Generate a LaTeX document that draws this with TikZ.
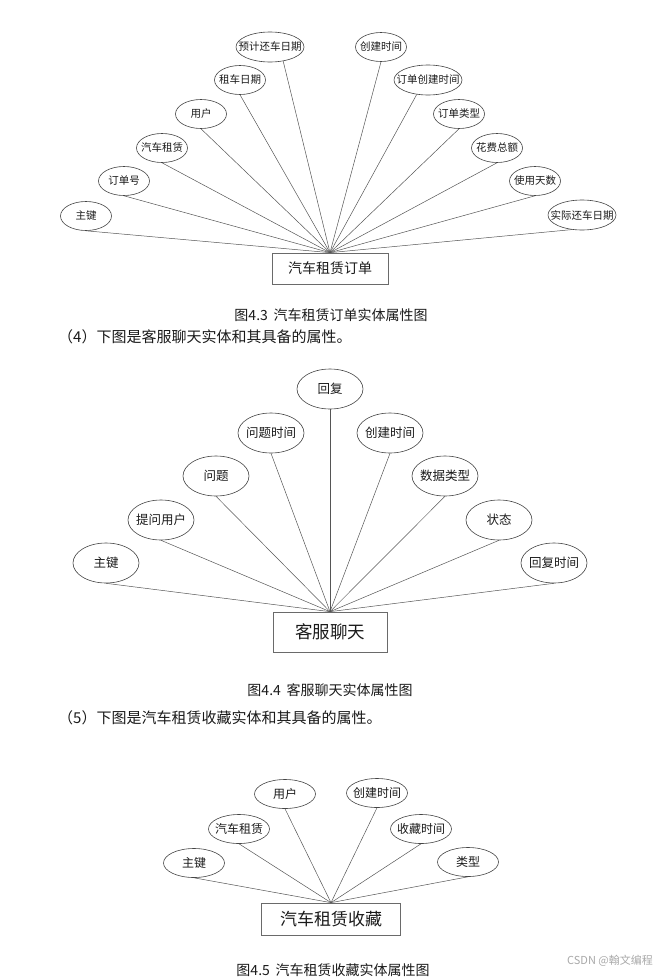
\documentclass[tikz,border=0pt]{standalone}
\usepackage{fontspec}
\setmainfont{Noto Sans CJK SC}
\usetikzlibrary{shapes.geometric}
\definecolor{clrLine}  {HTML}{555555}
\definecolor{clrEdge}  {HTML}{444444}
\definecolor{clrBox}   {HTML}{6A6A6A}
\definecolor{clrText}  {HTML}{1A1A1A}
\definecolor{clrMark}  {HTML}{A8A8A8}
\tikzset{
  % ellipse of fixed size, text does not widen it
  attr/.style = {
    ellipse, draw=clrEdge, line width=0.6pt, text=clrText,
    inner sep=0pt,
    execute at begin node={\hbox to 0pt\bgroup\hss},
    execute at end node={\hss\egroup},
  },
  attrA/.style  = {attr, minimum width=51pt, minimum height=29pt, font=\fontsize{10.5}{12}\selectfont},
  attrAL/.style = {attrA, minimum width=68pt, minimum height=30pt},
  attrB/.style  = {attr, minimum width=66pt, minimum height=40pt, font=\fontsize{12.5}{14}\selectfont},
  attrC/.style  = {attr, minimum width=61pt, minimum height=29pt, font=\fontsize{12}{14}\selectfont},
  entity/.style = {
    rectangle, draw=clrBox, line width=0.7pt, text=clrText, inner sep=0pt,
  },
  conn/.style   = {draw=clrLine, line width=0.5pt},
  figcap/.style = {font=\fontsize{14}{16}\selectfont, text=clrText, inner sep=0pt},
  para/.style   = {font=\fontsize{15}{17}\selectfont, text=clrText, inner sep=0pt, anchor=west},
}

\begin{document}
\begin{tikzpicture}[x=1pt, y=-1pt]
\useasboundingbox (0,0) rectangle (665,977);

% ══════════════════════════════════════════════════════════════════════════
%  Fig. 4.3 — rental order
% ══════════════════════════════════════════════════════════════════════════

\node[entity, minimum width=116pt, minimum height=31pt,
      font=\fontsize{14}{16}\selectfont] (ord) at (330,268.5) {汽车租赁订单};

\node[attrA]  (o1)  at (86, 216) {主键};
\node[attrA]  (o2)  at (124,181) {订单号};
\node[attrA]  (o3)  at (162,148) {汽车租赁};
\node[attrA]  (o4)  at (201,114) {用户};
\node[attrA]  (o5)  at (240, 80) {租车日期};
\node[attrAL] (o6)  at (270, 47) {预计还车日期};
\node[attrA]  (o7)  at (381, 47) {创建时间};
\node[attrAL] (o8)  at (428, 80) {订单创建时间};
\node[attrA]  (o9)  at (459,114) {订单类型};
\node[attrA]  (o10) at (497,148) {花费总额};
\node[attrA]  (o11) at (535,181) {使用天数};
\node[attrAL] (o12) at (582,215) {实际还车日期};

\draw[conn] (o1.south)  -- (ord.north);
\draw[conn] (o2.south)  -- (ord.north);
\draw[conn] (o3.south)  -- (ord.north);
\draw[conn] (o4.south)  -- (ord.north);
\draw[conn] (o5.south)  -- (ord.north);
\draw[conn] (o6.-47)    -- (ord.north);
\draw[conn] (o7.south)  -- (ord.north);
\draw[conn] (o8.-128)   -- (ord.north);
\draw[conn] (o9.south)  -- (ord.north);
\draw[conn] (o10.south) -- (ord.north);
\draw[conn] (o11.south) -- (ord.north);
\draw[conn] (o12.-125)  -- (ord.north);

\node[figcap] (cap1) at (331,315) {图4.3\hspace{0.4em}汽车租赁订单实体属性图};
\node[para]   (par1) at (58, 337) {（4）下图是客服聊天实体和其具备的属性。};

% ══════════════════════════════════════════════════════════════════════════
%  Fig. 4.4 — customer service chat
% ══════════════════════════════════════════════════════════════════════════

\node[entity, minimum width=114pt, minimum height=40pt,
      font=\fontsize{17.5}{20}\selectfont] (chat) at (330,632) {客服聊天};

\node[attrB] (c1) at (106,563) {主键};
\node[attrB] (c2) at (161,520) {提问用户};
\node[attrB] (c3) at (216,476) {问题};
\node[attrB] (c4) at (271,433) {问题时间};
\node[attrB] (c5) at (330,389) {回复};
\node[attrB] (c6) at (390,433) {创建时间};
\node[attrB] (c7) at (445,476) {数据类型};
\node[attrB] (c8) at (499,520) {状态};
\node[attrB] (c9) at (554,563) {回复时间};

\draw[conn] (c1.south) -- (chat.north);
\draw[conn] (c2.south) -- (chat.north);
\draw[conn] (c3.south) -- (chat.north);
\draw[conn] (c4.south) -- (chat.north);
\draw[conn] (c5.south) -- (chat.north);
\draw[conn] (c6.south) -- (chat.north);
\draw[conn] (c7.south) -- (chat.north);
\draw[conn] (c8.south) -- (chat.north);
\draw[conn] (c9.south) -- (chat.north);

\node[figcap] (cap2) at (330,690) {图4.4\hspace{0.4em}客服聊天实体属性图};
\node[para]   (par2) at (58, 718) {（5）下图是汽车租赁收藏实体和其具备的属性。};

% ══════════════════════════════════════════════════════════════════════════
%  Fig. 4.5 — rental favourite
% ══════════════════════════════════════════════════════════════════════════

\node[entity, minimum width=139pt, minimum height=32pt,
      font=\fontsize{17}{20}\selectfont] (fav) at (331,919) {汽车租赁收藏};

\node[attrC] (f1) at (194,863) {主键};
\node[attrC] (f2) at (239,829) {汽车租赁};
\node[attrC] (f3) at (285,794) {用户};
\node[attrC] (f4) at (377,793) {创建时间};
\node[attrC] (f5) at (421,829) {收藏时间};
\node[attrC] (f6) at (468,862) {类型};

\draw[conn] (f1.south) -- (fav.north);
\draw[conn] (f2.south) -- (fav.north);
\draw[conn] (f3.south) -- (fav.north);
\draw[conn] (f4.south) -- (fav.north);
\draw[conn] (f5.south) -- (fav.north);
\draw[conn] (f6.south) -- (fav.north);

\node[figcap] (cap3) at (333,970) {图4.5\hspace{0.4em}汽车租赁收藏实体属性图};

% watermark
\node[font=\fontsize{11}{12}\selectfont, text=clrMark, inner sep=0pt]
  (mark) at (610,961) {CSDN @翰文编程};

\end{tikzpicture}
\end{document}
